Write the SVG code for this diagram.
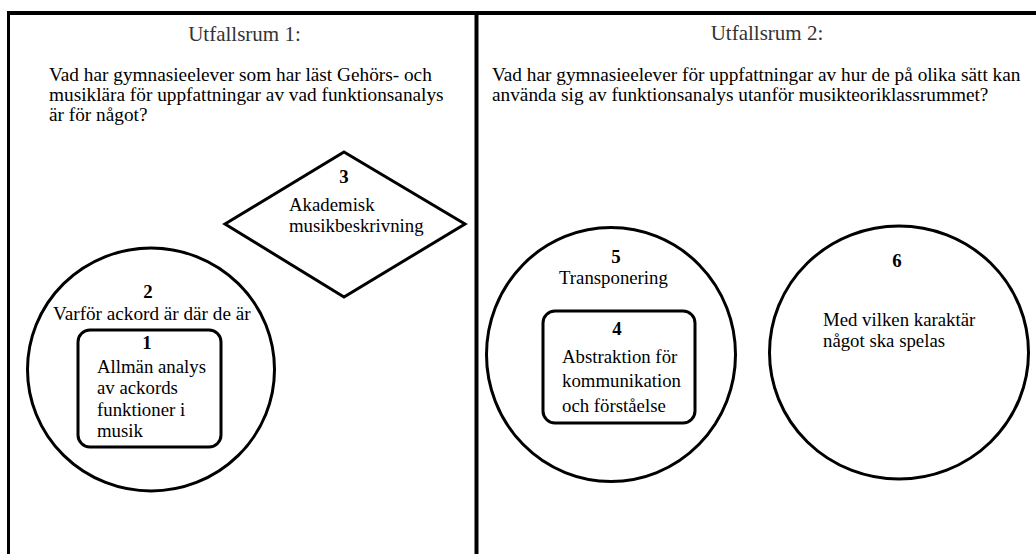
<svg xmlns="http://www.w3.org/2000/svg" width="1036" height="554" viewBox="0 0 1036 554">
<style>
text{font-family:"Liberation Serif","DejaVu Serif","Noto Serif",Tinos,Times,serif;fill:#000}
.title{font-size:21px;fill:#333;text-anchor:middle}
.q{font-size:19.3px}
.t{font-size:18.8px}
.num{font-size:18.8px;font-weight:bold;text-anchor:middle}
.shape{fill:none;stroke:#000;stroke-width:3}
.frame{stroke:#000;fill:none}
</style>
<rect width="1036" height="554" fill="#fff"/>
<g id="frame">
<line class="frame" x1="7" y1="13" x2="1036" y2="13" stroke-width="4"/>
<line class="frame" x1="8.5" y1="11" x2="8.5" y2="554" stroke-width="3"/>
<line class="frame" x1="476.5" y1="11" x2="476.5" y2="554" stroke-width="4"/>
</g>
<g id="header1">
<text class="title" x="244.5" y="41">Utfallsrum 1:</text>
<text class="q" x="49" y="81">Vad har gymnasieelever som har läst Gehörs- och</text>
<text class="q" x="49" y="101">musiklära för uppfattningar av vad funktionsanalys</text>
<text class="q" x="49" y="121">är för något?</text>
</g>
<g id="header2">
<text class="title" x="767" y="40">Utfallsrum 2:</text>
<text class="q" x="492" y="81">Vad har gymnasieelever för uppfattningar av hur de på olika sätt kan</text>
<text class="q" x="492" y="101">använda sig av funktionsanalys utanför musikteoriklassrummet?</text>
</g>
<g id="connectors"></g>
<g id="node3">
<polygon class="shape" points="344,152 465,224 344,297 225,224"/>
<text class="num" x="344" y="183">3</text>
<text class="t" x="289" y="211">Akademisk</text>
<text class="t" x="289" y="232">musikbeskrivning</text>
</g>
<g id="node2">
<ellipse class="shape" cx="151" cy="369.5" rx="123.5" ry="121.5"/>
<text class="num" x="148" y="298">2</text>
<text class="t" x="53" y="320" style="font-size:19.2px">Varför ackord är där de är</text>
</g>
<g id="node1">
<rect class="shape" x="78" y="330" width="143" height="117" rx="12"/>
<text class="num" x="147" y="349">1</text>
<text class="t" x="97" y="373">Allmän analys</text>
<text class="t" x="97" y="394">av ackords</text>
<text class="t" x="97" y="416">funktioner i</text>
<text class="t" x="97" y="437">musik</text>
</g>
<g id="node5">
<ellipse class="shape" cx="611" cy="354.5" rx="124.5" ry="127"/>
<text class="num" x="616" y="263">5</text>
<text class="t" x="559" y="284">Transponering</text>
</g>
<g id="node4">
<rect class="shape" x="543" y="311" width="152" height="112" rx="12"/>
<text class="num" x="617" y="335">4</text>
<text class="t" x="562" y="363">Abstraktion för</text>
<text class="t" x="562" y="387">kommunikation</text>
<text class="t" x="562" y="412">och förståelse</text>
</g>
<g id="node6">
<ellipse class="shape" cx="899" cy="352.5" rx="129.5" ry="126.5"/>
<text class="num" x="897" y="267">6</text>
<text class="t" x="823" y="326">Med vilken karaktär</text>
<text class="t" x="823" y="347">något ska spelas</text>
</g>
</svg>
